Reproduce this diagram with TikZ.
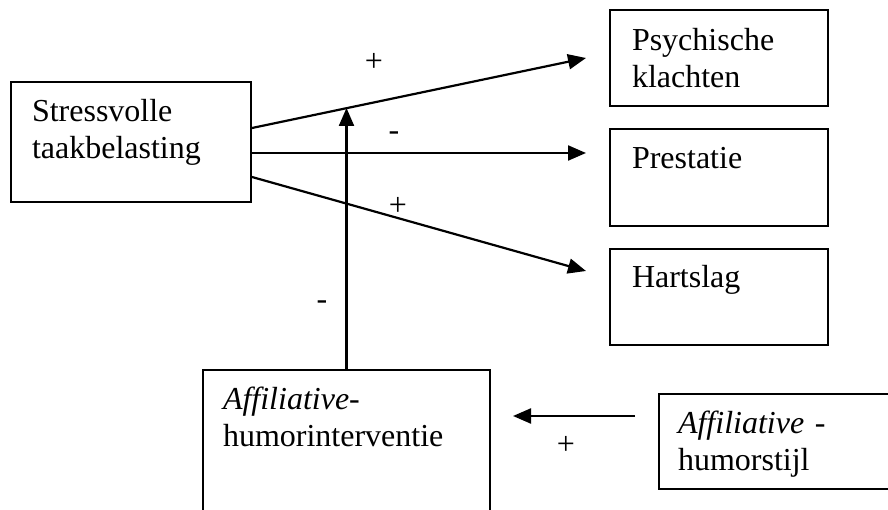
\documentclass[tikz,border=0pt]{standalone}
\usepackage{fontspec}
\setmainfont{Liberation Serif}
\usepackage{tikz}
\usetikzlibrary{positioning,arrows.meta,calc}

\tikzset{
    kader/.style={draw, line width=2pt, anchor=north west, inner xsep=#1, inner ysep=0pt,
        align=left, font=\fontsize{32}{37}\selectfont},
    kader/.default=21pt,
    teken/.style={font=\fontsize{32}{37}\selectfont, inner sep=0pt},
    pijl/.style={line width=2.2pt, -{Triangle[length=18pt,width=15pt]}}
}

\begin{document}
\begin{tikzpicture}[x=1pt, y=-1pt]
    \useasboundingbox (0,0) rectangle (888,510);
    \clip (0,0) rectangle (888,510);

    % boxes
    \node[kader, text width=198pt, text height=40pt, text depth=80pt] (stress) at (10,81)
        {Stressvolle\\taakbelasting};
    \node[kader=22pt, text width=174pt, text height=41pt, text depth=55pt] (psych) at (609,9)
        {Psychische\\klachten};
    \node[kader=22pt, text width=174pt, text height=40pt, text depth=57pt] (prest) at (609,128)
        {Prestatie};
    \node[kader=22pt, text width=174pt, text height=39pt, text depth=57pt] (hart) at (609,248)
        {Hartslag};
    \node[kader=20pt, text width=247pt, text height=39pt, text depth=160pt] (inter) at (202,369)
        {\textit{Affiliative}-\\humorinterventie};
    \node[kader=19pt, text width=230pt, text height=39pt, text depth=56pt] (stijl) at (658,393)
        {\textit{Affiliative} -\\humorstijl};

    % end points of the arrows
    \coordinate (sA) at (stress.east |- 0,128);
    \coordinate (sB) at (stress.east |- 0,153);
    \coordinate (sC) at (stress.east |- 0,177);
    \coordinate (tA) at (586,58);
    \coordinate (tB) at (586,153);
    \coordinate (tC) at (586,271);
    \coordinate (mod) at (inter.north |- 0,108);
    \coordinate (hA) at (635,416);
    \coordinate (hB) at (513,416);

    % arrows
    \draw[pijl] (sA) -- (tA);
    \draw[pijl] (sB) -- (tB);
    \draw[pijl] (sC) -- (tC);
    \draw[pijl] (inter.north) -- (mod);
    \draw[pijl] (hA) -- (hB);

    % signs
    \node[teken] (plusA) at (374,62) {+};
    \node[teken] (minB) at (394,136) {-};
    \node[teken] (plusC) at (398,206) {+};
    \node[teken] (minD) at (322,305) {-};
    \node[teken] (plusE) at (566,445) {+};
\end{tikzpicture}
\end{document}
